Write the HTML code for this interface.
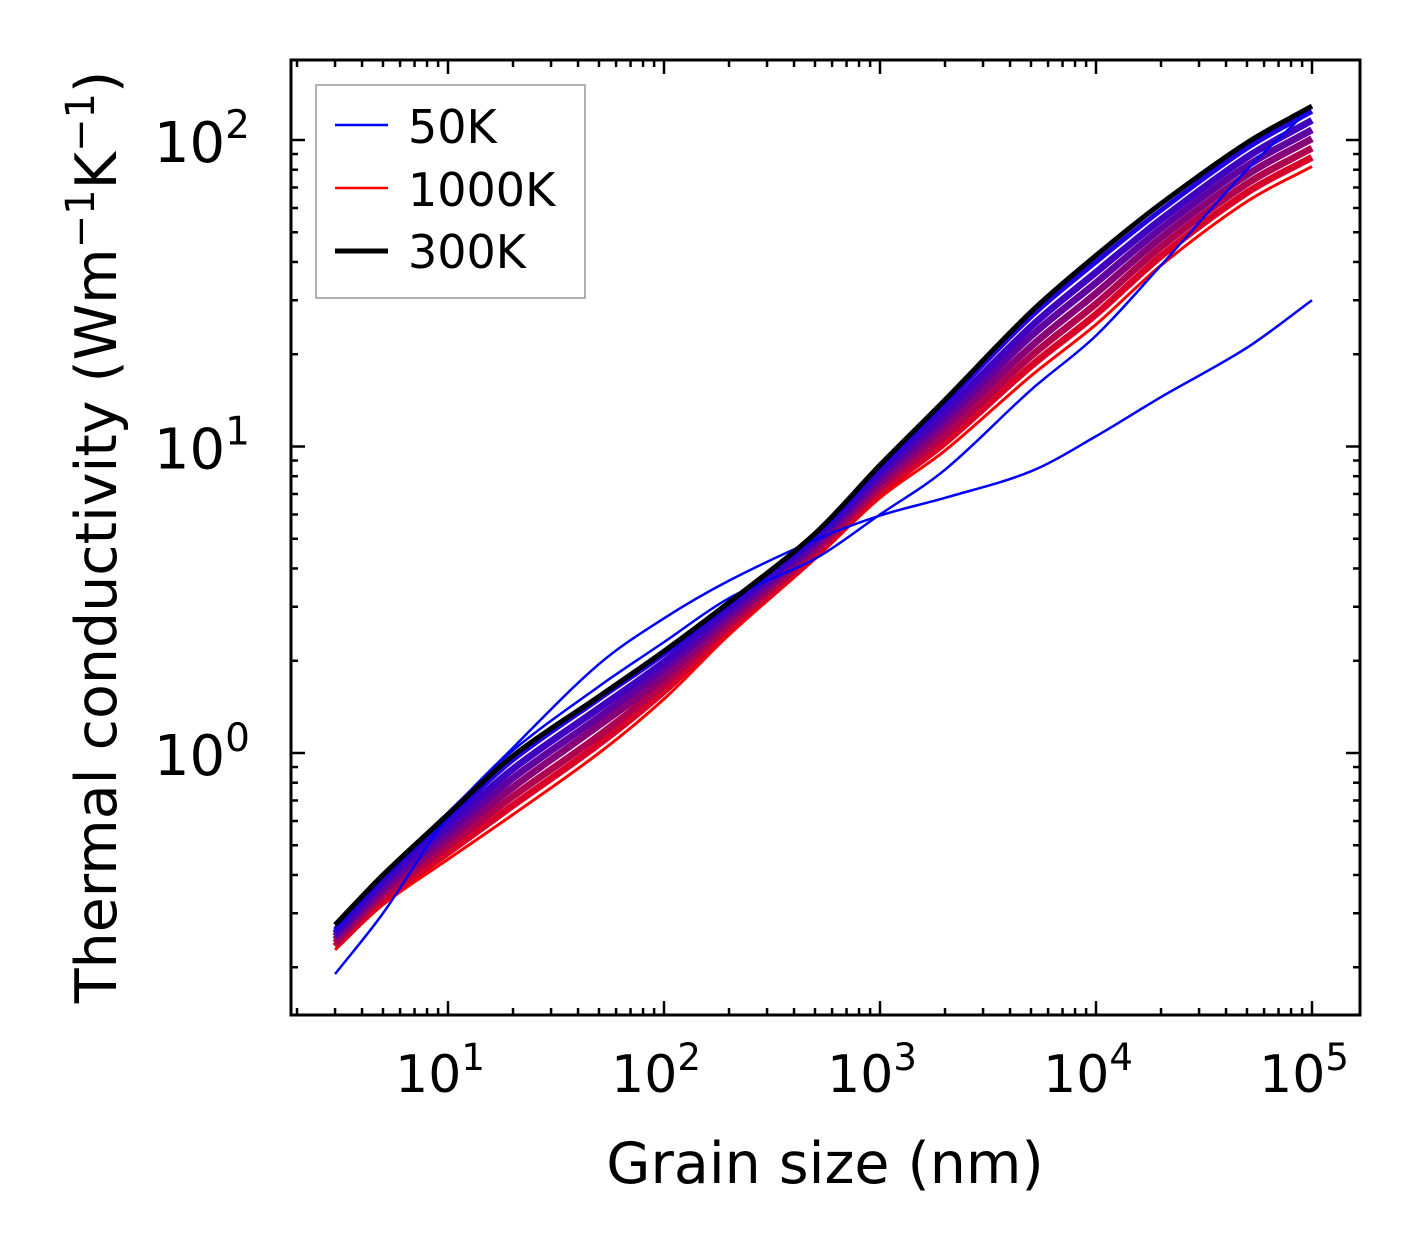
<!DOCTYPE html>
<html><head><meta charset="utf-8"><style>
html,body{margin:0;padding:0;background:#fff;}
svg{display:block;font-family:"DejaVu Sans","Liberation Sans",sans-serif;}
</style></head><body>
<svg id="chart" width="1421" height="1254" viewBox="0 0 1421 1254" xmlns="http://www.w3.org/2000/svg">
<defs><clipPath id="clip"><rect x="291" y="60" width="1069" height="955"/></clipPath></defs>
<g id="series" clip-path="url(#clip)"></g>
<g id="axes"></g>
<rect x="291" y="60" width="1069" height="955" fill="none" stroke="#000" stroke-width="3"/>
<text x="825" y="1183" font-size="57" text-anchor="middle">Grain size (nm)</text>
<text transform="translate(116,537) rotate(-90)" font-size="57" text-anchor="middle">Thermal conductivity (Wm<tspan dy="-22" font-size="40">−1</tspan><tspan dy="22">K</tspan><tspan dy="-22" font-size="40">−1</tspan><tspan dy="22">)</tspan></text>
<g>
<rect x="316" y="85" width="269" height="213" fill="#fff" stroke="#999" stroke-width="1.5"/>
<line x1="335" y1="125" x2="388" y2="125" stroke="#0000ff" stroke-width="2.5"/>
<text x="408" y="143" font-size="46">50K</text>
<line x1="335" y1="188" x2="388" y2="188" stroke="#ff0000" stroke-width="2.5"/>
<text x="408" y="206" font-size="46">1000K</text>
<line x1="335" y1="251" x2="388" y2="251" stroke="#000" stroke-width="5"/>
<text x="408" y="268" font-size="46">300K</text>
</g>
</svg>
<script>
const grain=[3,5,10,20,50,100,200,500,1000,2000,5000,1e4,2e4,5e4,1e5];
const k50=[0.19,0.30,0.62,1.04,1.95,2.75,3.65,4.95,5.95,6.8,8.3,10.8,14.5,21,30];
const k100=[0.27,0.40,0.64,1.02,1.65,2.3,3.2,4.3,6.0,8.4,15.3,23,39,80,128];
const k150=[0.265,0.39,0.61,0.95,1.5,2.1,3.05,5.1,8.5,13.8,26.5,40,59,94,124];
const k250=[0.258,0.378,0.58,0.887,1.40,1.98,2.94,4.96,8.19,13.0,24.6,37.0,55.0,87.9,116];
const k400=[0.252,0.365,0.551,0.828,1.31,1.88,2.83,4.82,7.89,12.3,22.9,34.2,51.4,82.3,108];
const k550=[0.246,0.353,0.524,0.773,1.23,1.77,2.72,4.68,7.60,11.6,21.2,31.6,48.0,77.0,101];
const k700=[0.240,0.342,0.498,0.722,1.14,1.68,2.62,4.55,7.33,10.9,19.7,29.2,44.8,72.0,94.1];
const k850=[0.234,0.331,0.473,0.675,1.07,1.59,2.53,4.42,7.06,10.3,18.3,27.0,41.8,67.4,87.8];
const k1000=[0.228,0.32,0.45,0.63,1.0,1.5,2.43,4.3,6.8,9.7,17,25,39,63,82];
const k300=[0.275,0.40,0.63,0.98,1.53,2.15,3.1,5.2,8.7,14.2,27.5,42,62,98,129];
const xTicks=["10","10","10","10","10"], xExp=["1","2","3","4","5"];
const yTicks=["10","10","10"], yExp=["0","1","2"];

const X=v=>448+(Math.log10(v)-1)*216;
const Y=v=>753-Math.log10(v)*306.5;
const NS="http://www.w3.org/2000/svg";
const sg=document.getElementById('series'), ag=document.getElementById('axes');
function mk(t,a){const e=document.createElementNS(NS,t);for(const k in a)e.setAttribute(k,a[k]);return e;}
function pathFor(vals){
  const px=grain.map(X), py=vals.map(Y), n=px.length;
  const m=[];for(let i=0;i<n;i++){const a=Math.max(0,i-1),b=Math.min(n-1,i+1);m.push((py[b]-py[a])/(px[b]-px[a]));}
  let d=`M${px[0]},${py[0]}`;
  for(let i=0;i<n-1;i++){const h=(px[i+1]-px[i])/3;d+=` C${px[i]+h},${py[i]+m[i]*h} ${px[i+1]-h},${py[i+1]-m[i+1]*h} ${px[i+1]},${py[i+1]}`;}
  return d;
}
const list=[[k1000,'#ff0000',3],[k850,'#d80028',7],[k700,'#b00050',7],[k550,'#880078',7],[k400,'#6000a0',7],[k250,'#4000c0',7],[k150,'#2000e0',5],[k100,'#0000ff',2.5],[k50,'#0000ff',2.5]];
const names=['k1000','k850','k700','k550','k400','k250','k150','k100','k50'];
list.forEach((it,i)=>{
  const p=mk('path',{d:pathFor(it[0]),fill:'none',stroke:it[1],'stroke-width':it[2]});
  
  
  sg.appendChild(p);
});
const b=mk('path',{d:pathFor(k300),fill:'none',stroke:'#000','stroke-width':5});


sg.appendChild(b);
function tick(x1,y1,x2,y2){const l=mk('line',{x1,y1,x2,y2,stroke:'#000','stroke-width':2.5});


ag.appendChild(l);}
for(let d=0;d<=5;d++)for(let k=1;k<10;k++){const v=k*Math.pow(10,d),x=X(v);if(x<291||x>1360)continue;const L=k===1?14:7;tick(x,1015,x,1015-L);tick(x,60,x,60+L);}
for(let d=-1;d<=2;d++)for(let k=1;k<10;k++){const v=k*Math.pow(10,d),y=Y(v);if(y<60||y>1015)continue;const L=k===1?14:7;tick(291,y,291+L,y);tick(1360,y,1360-L,y);}
xTicks.forEach((t,i)=>{const x=X(Math.pow(10,+xExp[i]));const e=mk('text',{x:x-8,y:1092,'font-size':52,'text-anchor':'middle'});e.innerHTML=`${t}<tspan dy="-22" font-size="37">${xExp[i]}</tspan>`;


ag.appendChild(e);});
yTicks.forEach((t,i)=>{const y=Y(Math.pow(10,+yExp[i]));const e=mk('text',{x:250,y:y+22,'font-size':56,'text-anchor':'end'});e.innerHTML=`${t}<tspan dy="-24" font-size="39">${yExp[i]}</tspan>`;


ag.appendChild(e);});
</script>
</body></html>
